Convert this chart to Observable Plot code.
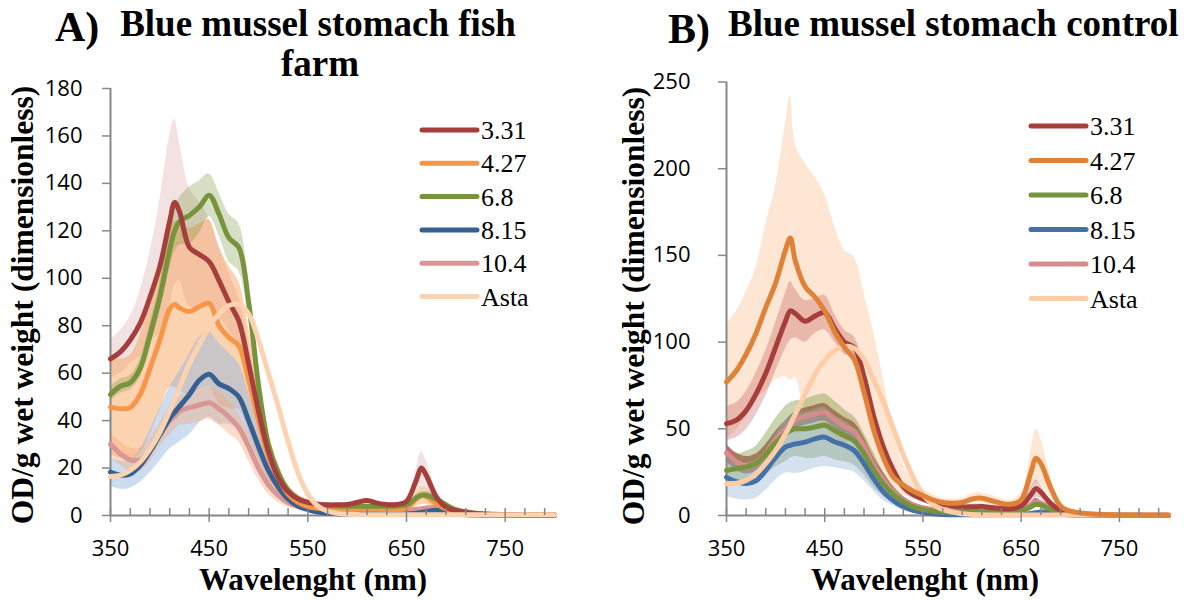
<!DOCTYPE html>
<html>
<head>
<meta charset="utf-8">
<script src="https://cdn.jsdelivr.net/npm/d3@7"></script>
<script src="https://cdn.jsdelivr.net/npm/@observablehq/plot@0.6"></script>
<style>
  html, body { margin: 0; padding: 0; background: #fff; }
  #root { position: relative; width: 1192px; height: 600px; overflow: hidden; background: #fff; }
  .panel { position: absolute; top: 0; }
  #overlay { position: absolute; left: 0; top: 0; pointer-events: none; }
</style>
</head>
<body>
<div id="root">
  <div class="panel" id="panelA" style="left:0px"></div>
  <div class="panel" id="panelB" style="left:596px"></div>
</div>
<script>
// ---------------- DATA ----------------
const wavelengths = [350,360,370,380,390,400,410,415,420,430,440,450,460,470,480,490,500,510,520,530,540,550,560,570,580,590,600,610,620,630,640,650,660,665,670,680,690,700,720,740,760,780,800];
const seriesNames = ["3.31", "4.27", "6.8", "8.15", "10.4", "Asta"];
const xTicksMajor = [350, 450, 550, 650, 750];
const xTicksMinor = [370,390,410,430,470,490,510,530,570,590,610,630,670,690,710,730,770,790];
const yTicksA = [0,20,40,60,80,100,120,140,160,180];
const yTicksB = [0,50,100,150,200,250];
const titleA = ["Blue mussel stomach fish", "farm"];
const titleB = "Blue mussel stomach control";
const xLabel = "Wavelenght (nm)";
const yLabel = "OD/g wet weight (dimensionless)";

// Panel A (fish farm): means and band half-widths
const A_331    = [66,69,74,81,92,105,124,132, 128,113,110,107,99,90,82,64,44,27,16,10,7,5.5,4.8,4.5,4.5,4.6,5.5,6.3,5.2,4.6,4.6,6, 15,20,17,8,3.5,2, 0.8,0.4,0.3,0.2,0.2];
const A_331_sd = [8,9,10,14,19,28,36,35, 29,25,22,18,15,12,10,9,7,5,4,3,2,1.5,1,1,1,1,1,1,1,1,1,1, 5,7,6,3,1,0.5, 0.3,0.3,0.3,0.3,0.3];
const A_427    = [45.7,45,45.5,51,62,74,87,89, 87.5,86,88,89.5,80,75,71.5,57,40,25,16,9,5.5,3.8,3,2.7,2.6,2.6,2.7,2.8,2.7,2.6,2.6,3.2, 7,8.5,8,5,2.8,1.5, 0.5,0.3,0.2,0.2,0.2];
const A_427_sd = [20,21,22,25,28,30,33,35, 35,35,35,35,33,30,27,22,16,10,6,4,3,2,1,1,1,1,1,1,1,1,1,1, 3,4,3.5,2,1,0.3, 0.3,0.3,0.3,0.3,0.3];
const A_68     = [51,54.5,56,62,76,92,112,120, 124,126.5,130,135,127,117,113,90,55,30,18,10.5,7,5.5,4.6,4.2,4,3.9,3.9,3.9,3.9,3.9,4,4.5, 7.5,8.5,8.5,7,4.5,2.5, 1,0.5,0.3,0.2,0.2];
const A_68_sd  = [3,3,3,4,5,6,8,9, 10,12,11,9,9,10,10,8,6,4,3,2,1.5,1,0.8,0.8,0.8,0.8,0.8,0.8,0.8,0.8,0.8,0.8, 1.5,1.5,1.5,1.5,1,0.3, 0.3,0.3,0.3,0.3,0.3];
const A_815    = [18.3,17,17.5,21,27,34,41,43.5, 46,51,57,59.5,55.5,53.5,50,40,29,19,12,7,4,2.5,1.5,1,0.7,0.5,0.5,0.5,0.5,0.5,0.5,0.6, 1,1.3,1.6,2.2,1.5,0.6, 0.2,0.1,0.1,0.1,0.1];
const A_815_sd = [6,6,6,7,9,11,13,14, 15,17,18,18,17,15,14,12,9,6,4,2.5,1.5,1,0.5,0.5,0.5,0.5,0.5,0.5,0.5,0.5,0.5,0.5, 0.5,0.5,0.5,0.5,0.5,0.3, 0.2,0.2,0.2,0.2,0.2];
const A_104    = [30,26,23.5,23.5,27.5,34,40,42, 44,45.5,46.5,47.5,45,41.5,37,29,20,13,8.5,5.5,4,3,2.5,2.2,2,2,2,2,2,2,2,2.2, 2.6,2.9,3.2,3.5,2.5,1.5, 0.5,0.3,0.2,0.2,0.2];
const A_104_sd = [5,5,5,5,5,5,6,6, 6,7,7,7,7,7,6,6,5,4,3,2,1.5,1,0.5,0.5,0.5,0.5,0.5,0.5,0.5,0.5,0.5,0.5, 0.5,0.5,0.5,0.5,0.5,0.3, 0.2,0.2,0.2,0.2,0.2];
const A_asta   = [16.4,17,19,22.5,28,35,44,49, 54,64,72,79.5,85,88.5,89,85,74,60,46,31,18,9,4,1.8,0.9,0.5,0.4,0.3,0.3,0.3,0.3,0.3, 0.3,0.3,0.3,0.3,0.3,0.3, 0.3,0.3,0.3,0.3,0.3];

// Panel B (control)
const B_331    = [53,55,60.5,70,82,97,112,118, 116.5,112,115,117,108,100,97,80,57,39,26,16.5,12,9.5,7.5,6.5,5.5,5,5,5.2,4.5,4,4,5.5, 12,15.5,13.5,7,3,1.5, 0.5,0.3,0.2,0.2,0.2];
const B_331_sd = [10,10,11,12,13,14,16,17, 14,12,10,10,8,7,6,6,5,4,3,2.5,2,2,1.5,1.5,1.5,1.5,1.5,1.5,1.5,1.5,1.5,1.5, 4,5,4,2,1,0.5, 0.3,0.3,0.3,0.3,0.3];
const B_427    = [77,83.5,93,105,120,134,153,160, 147,132,126,118,106,97,90,71,49,33,22,17.5,14,11.5,9,7.5,7,7.5,9.5,10,8.5,7,6.5,9, 25,33,30,16,5.5,2.5, 1,0.5,0.3,0.2,0.2];
const B_427_sd = [33,34,36,38,48,56,73,82, 67,71,69,67,61,56,59,57,56,45,27,12,6,4,3,2.5,2.5,2.5,3,3,3,2.5,2.5,4, 12,17,14,7,2.5,1, 0.5,0.3,0.3,0.3,0.3];
const B_427_sdLo = [33,34,36,38,48,56,73,82, 67,71,69,67,61,56,45,35,25,16,10,6,4,3,2.5,2,2,2,2.5,2.5,2.5,2,2,3.5, 10,14,12,6,2,1, 0.5,0.3,0.3,0.3,0.3];
const B_68     = [26,27,28,30,35.5,42,47,49, 50,50,51,52,49,46,43,35.5,26,18,12,8,5,3.5,2.5,2,2,2,2,2,2,2,2,2.5, 5,6.5,6,3.5,2,1, 0.4,0.2,0.1,0.1,0.1];
const B_68_sd  = [8,8,9,10,12,14,16,16, 16,17,18,18,17,15,14,12,10,7,5,3,2,1.5,1,1,1,1,1,1,1,1,1,1, 1.5,1.5,1.5,1,0.5,0.3, 0.2,0.2,0.2,0.2,0.2];
const B_815    = [22,19.5,18.5,20,26,33.5,39.5,40.5, 41.3,42.3,44.2,45.2,42.5,40.5,37.5,30,21,13.5,8.5,5,3,1.8,1,0.6,0.4,0.4,0.4,0.4,0.4,0.4,0.4,0.6, 1.2,1.6,2,1.8,0.9,0.3, 0.1,0.1,0.1,0.1,0.1];
const B_815_sd = [11,10,9.5,10,11.5,13,15,16, 17,17,17,17,15,14,12.5,10,7,5,3,2,1.5,1,0.5,0.5,0.5,0.5,0.5,0.5,0.5,0.5,0.5,0.5, 0.5,0.5,0.5,0.5,0.5,0.3, 0.2,0.2,0.2,0.2,0.2];
const B_104    = [36,31,29,30.5,36,43.5,49.5,52.5, 55,57,58.5,59.5,55.5,51.5,48.5,40,29,20.5,13.5,9,6,4.5,3.5,3,3,3,3,3,3,3,3,3.5, 6,8,7,4.5,3,2, 0.6,0.3,0.2,0.2,0.2];
const B_104_sd = [5,5,5,5,5,5,5,5, 5,5,5,5,5,5,5,5,4.5,4,3,2,1.5,1,0.8,0.8,0.8,0.8,0.8,0.8,0.8,0.8,0.8,0.8, 1.5,2,1.5,1,0.5,0.3, 0.2,0.2,0.2,0.2,0.2];
const B_asta   = [18.3,18.6,20.2,24,30,37.5,47,52.5, 58.5,70,81.5,89.5,95,97.5,96.5,90,78,65,50,35,22,12,6.5,3.5,2,1,0.6,0.4,0.3,0.3,0.3,0.3, 0.3,0.3,0.3,0.3,0.3,0.3, 0.3,0.3,0.3,0.3,0.3];

// ---------------- STYLE ----------------
const axisGrey = "#878787";
const serif = "'Liberation Serif', 'Times New Roman', serif";
const sans = "'Open Sans', 'Liberation Sans', sans-serif";

const colorsA = {"3.31": "#A63F3C", "4.27": "#F79646", "6.8": "#77933C", "8.15": "#376092", "10.4": "#D99694", "Asta": "#FCD3B0"};
const colorsB = {"3.31": "#A63F3C", "4.27": "#DF8238", "6.8": "#77933C", "8.15": "#4472A8", "10.4": "#D48C8C", "Asta": "#FCCDA6"};

function rows(mean, sd, sdLo) {
  const lo = sdLo || sd;
  return wavelengths.map((w, i) => ({
    w, m: mean[i],
    lo: sd ? Math.max(0, mean[i] - lo[i]) : mean[i],
    hi: sd ? mean[i] + sd[i] : mean[i]
  }));
}

const panels = [
  {
    el: "#panelA", yMax: 180, yTicks: yTicksA,
    marginLeft: 110, marginRight: 42, marginTop: 88, labelGap: 28,
    colors: colorsA,
    bands: [
      {mean: A_331, sd: A_331_sd, fill: "#A63F3C", op: 0.15},
      {mean: A_427, sd: A_427_sd, fill: "#F79646", op: 0.42},
      {mean: A_68,  sd: A_68_sd,  fill: "#77933C", op: 0.3},
      {mean: A_815, sd: A_815_sd, fill: "#8DB3E2", op: 0.45},
      {mean: A_104, sd: A_104_sd, fill: "#F7A878", op: 0.4}
    ],
    lines: [
      {s: "10.4", mean: A_104}, {s: "8.15", mean: A_815}, {s: "4.27", mean: A_427},
      {s: "6.8", mean: A_68}, {s: "3.31", mean: A_331}, {s: "Asta", mean: A_asta}
    ]
  },
  {
    el: "#panelB", yMax: 250, yTicks: yTicksB,
    marginLeft: 130, marginRight: 24, marginTop: 81.5, labelGap: 36,
    colors: colorsB,
    bands: [
      {mean: B_427, sd: B_427_sd, sdLo: B_427_sdLo, fill: "#FAC090", op: 0.4},
      {mean: B_331, sd: B_331_sd, fill: "#C0504D", op: 0.3},
      {mean: B_104, sd: B_104_sd, fill: "#A63F3C", op: 0.75},
      {mean: B_68,  sd: B_68_sd,  fill: "#77933C", op: 0.4},
      {mean: B_815, sd: B_815_sd, fill: "#95B3D7", op: 0.4}
    ],
    lines: [
      {s: "10.4", mean: B_104}, {s: "8.15", mean: B_815}, {s: "6.8", mean: B_68},
      {s: "3.31", mean: B_331}, {s: "Asta", mean: B_asta}, {s: "4.27", mean: B_427}
    ]
  }
];

for (const p of panels) {
  const marks = [];
  for (const b of p.bands) {
    marks.push(Plot.areaY(rows(b.mean, b.sd, b.sdLo), {x: "w", y1: "lo", y2: "hi", fill: b.fill, fillOpacity: b.op, curve: "catmull-rom"}));
  }
  marks.push(Plot.ruleY([0], {stroke: axisGrey, strokeWidth: 2}));
  marks.push(Plot.ruleX([350], {stroke: axisGrey, strokeWidth: 2}));
  for (const l of p.lines) {
    marks.push(Plot.lineY(rows(l.mean), {x: "w", y: "m", stroke: p.colors[l.s], strokeWidth: 5, curve: "catmull-rom", strokeLinejoin: "round", strokeLinecap: "round"}));
  }
  // x ticks: minor inside, major crossing the axis
  marks.push(Plot.axisX({ticks: xTicksMinor, tickSize: 7, dy: -7, stroke: axisGrey, strokeWidth: 1.5, fill: "none", label: null}));
  marks.push(Plot.axisX({ticks: xTicksMajor, tickSize: 14, dy: -7, stroke: axisGrey, strokeWidth: 1.5, fill: "none", label: null}));
  marks.push(Plot.axisX({ticks: xTicksMajor, tickSize: 0, tickPadding: 25, stroke: "none", fill: "#000", label: null, tickFormat: d => String(d)}));
  // y ticks outward, labels further left
  marks.push(Plot.axisY({ticks: p.yTicks, tickSize: 8, stroke: axisGrey, strokeWidth: 1.5, fill: "none", label: null}));
  marks.push(Plot.axisY({ticks: p.yTicks, tickSize: 0, tickPadding: 0, dx: -p.labelGap, stroke: "none", fill: "#000", textAnchor: "end", label: null, tickFormat: d => String(d)}));

  const chart = Plot.plot({
    width: 596, height: 600,
    marginLeft: p.marginLeft, marginRight: p.marginRight, marginTop: p.marginTop, marginBottom: 85,
    x: {domain: [350, 800]},
    y: {domain: [0, p.yMax]},
    style: {fontFamily: sans, fontSize: "22px", color: "#000", background: "transparent", overflow: "visible"},
    marks
  });
  document.querySelector(p.el).appendChild(chart);
}

// ---------------- OVERLAY TEXT: titles, axis titles, legends ----------------
const svg = d3.select("#root").append("svg").attr("id", "overlay").attr("width", 1192).attr("height", 600);

function txt(x, y, s, opts = {}) {
  const t = svg.append("text").attr("x", x).attr("y", y).text(s)
    .attr("font-family", opts.family || serif)
    .attr("font-size", opts.size || 26)
    .attr("font-weight", opts.weight || "normal")
    .attr("fill", "#000")
    .attr("text-anchor", opts.anchor || "start");
  if (opts.rotate) t.attr("transform", `rotate(-90 ${x} ${y})`);
  return t;
}

// Panel titles
txt(55, 41, "A)", {size: 42, weight: "bold"});
txt(318, 36, titleA[0], {size: 37, weight: "bold", anchor: "middle"});
txt(320, 76, titleA[1], {size: 37, weight: "bold", anchor: "middle"});
txt(668, 43, "B)", {size: 42, weight: "bold"});
txt(728, 36, titleB, {size: 37, weight: "bold"});

// Axis titles
txt(313, 590, xLabel, {size: 31, weight: "bold", anchor: "middle"});
txt(925, 590, xLabel, {size: 31, weight: "bold", anchor: "middle"});
txt(33, 305, yLabel, {size: 31.5, weight: "bold", anchor: "middle", rotate: true});
txt(644, 306, yLabel, {size: 31.5, weight: "bold", anchor: "middle", rotate: true});

// Legends
function legend(x0, x1, y0, dy, colors) {
  seriesNames.forEach((s, i) => {
    const y = y0 + i * dy;
    svg.append("line").attr("x1", x0).attr("x2", x1).attr("y1", y).attr("y2", y)
      .attr("stroke", colors[s]).attr("stroke-width", 5).attr("stroke-linecap", "round");
    txt(x1 + 4, y + 9, s, {size: 26});
  });
}
legend(422, 477, 130, 33.3, colorsA);
legend(1031, 1086, 126, 34.5, colorsB);
</script>
</body>
</html>
